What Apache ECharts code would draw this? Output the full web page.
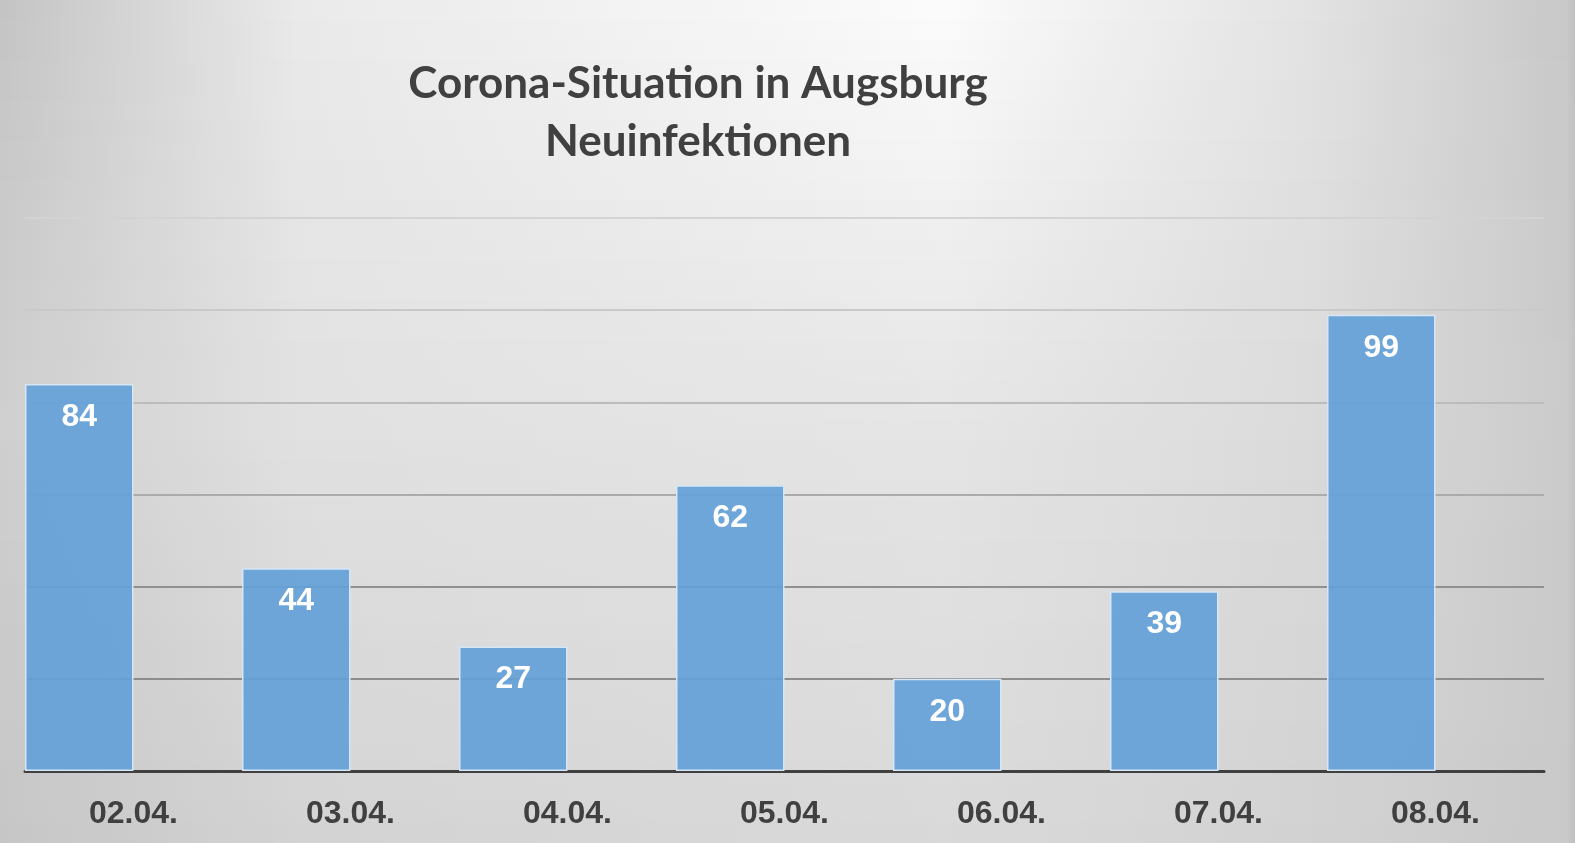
<!DOCTYPE html>
<html><head><meta charset="utf-8">
<script src="https://cdn.jsdelivr.net/npm/echarts@6/dist/echarts.min.js"></script>
<style>html,body{margin:0;padding:0;background:#d8d8d8;}#c{width:1575px;height:843px;}</style>
</head><body><div id="c"></div>
<script>
const categories = ['02.04.', '03.04.', '04.04.', '05.04.', '06.04.', '07.04.', '08.04.'];
const newInfections = [84, 44, 27, 62, 20, 39, 99];
const titleLines = ['Corona-Situation in Augsburg', 'Neuinfektionen'];
const yMin = 0, yMax = 120, yInterval = 20;

// background shading (decoration only)
const W = 1575, H = 843;
const stopPos = [0, 0.19, 0.6, 0.83, 0.995, 1];
const topG = [0xc4, 0xea, 0xfc, 0xe3, 0xc8, 0xc0];
const midG = [0xcf, 0xe1, 0xe5, 0xdb, 0xcb, 0xc2];
const botG = [0xc6, 0xd3, 0xd9, 0xd2, 0xc9, 0xc0];
function g(v){const h=Math.round(v).toString(16).padStart(2,'0');return '#'+h+h+h;}
const strips = [];
const N = 42;
for (let i = 0; i < N; i++) {
  const y0 = Math.floor(i * H / N), y1 = Math.ceil((i + 1) * H / N) + 1;
  const t = ((y0 + y1) / 2) / H;
  const stops = stopPos.map((p, k) => {
    let v;
    if (t < 0.5) v = topG[k] + (midG[k] - topG[k]) * (t / 0.5);
    else v = midG[k] + (botG[k] - midG[k]) * ((t - 0.5) / 0.5);
    return {offset: p, color: g(v)};
  });
  strips.push({type: 'rect', silent: true, z: -100, shape: {x: 0, y: y0, width: W, height: y1 - y0},
    style: {fill: {type: 'linear', x: 0, y: 0, x2: 1, y2: 0, colorStops: stops}}});
}

const chart = echarts.init(document.getElementById('c'));
chart.setOption({
  animation: false,
  graphic: strips,
  title: {
    text: titleLines.join('\n'),
    left: 698, top: 55, textAlign: 'center', padding: 0,
    textStyle: {fontFamily: 'Lato', fontWeight: 'bold', fontSize: 44, color: '#404040', lineHeight: 58}
  },
  grid: {left: 25, right: 31, top: 218, bottom: 72, containLabel: false},
  xAxis: {
    type: 'category', data: categories,
    axisLine: {lineStyle: {color: '#404040', width: 3}},
    axisTick: {show: false},
    axisLabel: {fontFamily: 'Liberation Sans', fontWeight: 'bold', fontSize: 32, color: '#404040', margin: 27}
  },
  yAxis: {
    type: 'value', min: yMin, max: yMax, interval: yInterval,
    axisLabel: {show: false}, axisLine: {show: false}, axisTick: {show: false},
    splitLine: {lineStyle: {width: 2, color: ['#404040', '#8c8c8c', '#909090', '#ababab', '#bcbcbc', '#c9c9c9', '#d3d3d3']}}
  },
  series: [
    {
      type: 'bar', name: 'Neuinfektionen', data: newInfections,
      barWidth: '50%', barGap: '0%',
      itemStyle: {color: 'rgba(100,161,216,0.92)', borderColor: '#d6e6f5', borderWidth: 1.5},
      label: {show: true, position: 'insideTop', distance: 17, color: '#ffffff',
        fontFamily: 'Liberation Sans', fontWeight: 'bold', fontSize: 32}
    },
    {type: 'bar', name: 'leer', data: [], barWidth: '50%', barGap: '0%'}
  ]
});
</script></body></html>
